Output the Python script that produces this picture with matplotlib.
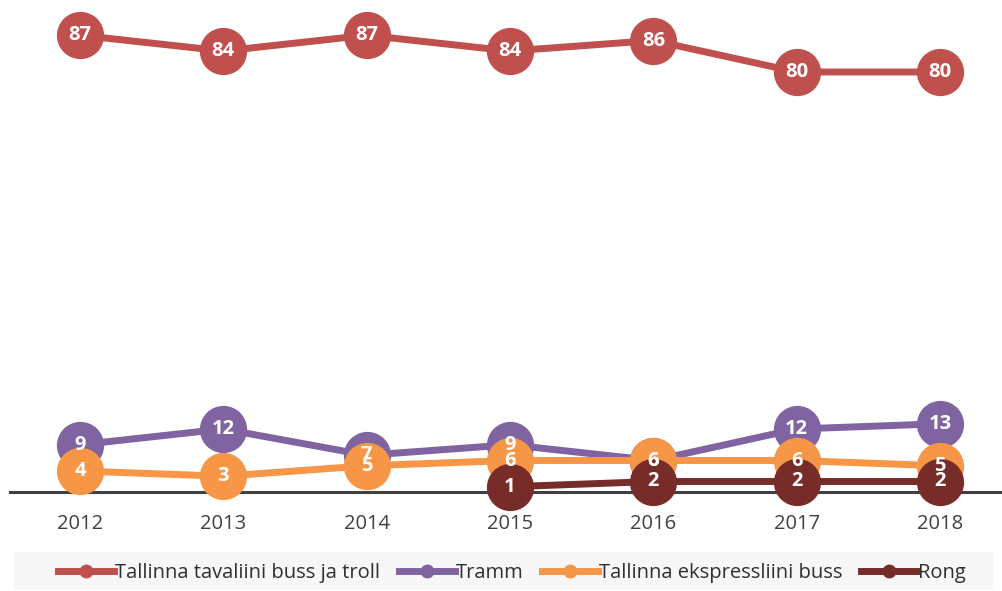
import matplotlib
matplotlib.use("Agg")
import matplotlib.pyplot as plt
from matplotlib.lines import Line2D
from matplotlib.patches import Rectangle

years = [2012, 2013, 2014, 2015, 2016, 2017, 2018]
buss_troll = [87, 84, 87, 84, 86, 80, 80]
tramm = [9, 12, 7, 9, 6, 12, 13]
ekspress = [4, 3, 5, 6, 6, 6, 5]
rong_years = [2015, 2016, 2017, 2018]
rong = [1, 2, 2, 2]

series = [
    ("Tallinna tavaliini buss ja troll", years, buss_troll, "#C0504D"),
    ("Tramm", years, tramm, "#8064A2"),
    ("Tallinna ekspressliini buss", years, ekspress, "#F79646"),
    ("Rong", rong_years, rong, "#772C2A"),
]

plt.rcParams["font.family"] = ["Open Sans", "DejaVu Sans"]

fig = plt.figure(figsize=(10.03, 5.91), dpi=100)
ax = fig.add_axes([10 / 1003, 99 / 591, 993 / 1003, 492 / 591])
ax.set_xlim(2012 - 70 / 143.3, 2018 + 63 / 143.3)
ax.set_ylim(0, 492 / 5.25)

for name, xs, ys, col in series:
    ax.plot(xs, ys, color=col, lw=5, marker="o", ms=33, mec=col, mfc=col,
            solid_capstyle="round", clip_on=False, zorder=2)

# labels on top of all markers
for name, xs, ys, col in series:
    for x, y in zip(xs, ys):
        ax.text(x, y, str(y), ha="center", va="center", color="white",
                fontsize=14.5, fontweight="bold", zorder=5)

for s in ["left", "right", "top"]:
    ax.spines[s].set_visible(False)
ax.spines["bottom"].set_color("#404040")
ax.spines["bottom"].set_linewidth(2.2)
ax.spines["bottom"].set_zorder(1)
ax.set_yticks([])
ax.set_xticks(years)
ax.set_xticklabels([str(y) for y in years])
ax.tick_params(axis="x", length=0, pad=16, labelsize=14.5, labelcolor="#404040")

# legend background
fig.patches.append(Rectangle((14 / 1003, 1 / 591), 979 / 1003, 38 / 591,
                             transform=fig.transFigure, facecolor="#F7F7F7",
                             edgecolor="none", zorder=0))
handles = [Line2D([], [], color=c, lw=5, marker="o", ms=9, mfc=c, mec=c)
           for _, _, _, c in series]
labels = [n for n, _, _, _ in series]
fig.legend(handles, labels, loc="center", bbox_to_anchor=(512 / 1003, 1 - 573 / 591),
           ncol=4, frameon=False, fontsize=14.5, handlelength=2.8, handletextpad=0.05,
           columnspacing=0.9, labelcolor="#303030")

fig.savefig("out.png", dpi=100)
